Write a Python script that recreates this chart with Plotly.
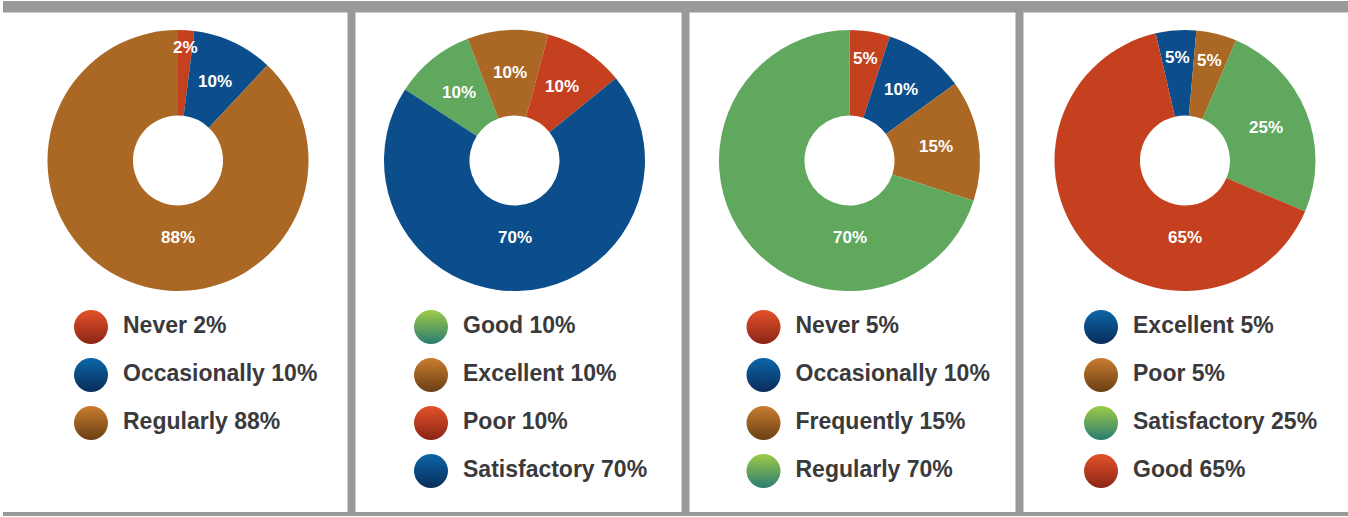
import math
import plotly.graph_objects as go

W, H = 1348, 517

# ---------------- data ----------------
p1_labels = ["Never", "Occasionally", "Regularly"]
p1_values = [2, 10, 88]
p2_labels = ["Good", "Excellent", "Poor", "Satisfactory"]
p2_values = [10, 10, 10, 70]
p3_labels = ["Never", "Occasionally", "Frequently", "Regularly"]
p3_values = [5, 10, 15, 70]
p4_labels = ["Excellent", "Poor", "Satisfactory", "Good"]
p4_values = [5, 5, 25, 65]

p1_colors = ["red", "blue", "brown"]
p2_colors = ["green", "brown", "red", "blue"]
p3_colors = ["red", "blue", "brown", "green"]
p4_colors = ["blue", "brown", "green", "red"]

# ---------------- styles ----------------
SLICE = {"red": "#c4401f", "blue": "#0c4e8b", "brown": "#aa6824", "green": "#5fa85e"}
BALL_TOP = {"red": "#e4522b", "blue": "#0b66a8", "brown": "#c97d2e", "green": "#9ecb48"}
BALL_BOT = {"red": "#8a2414", "blue": "#0a2d5a", "brown": "#6a3f15", "green": "#2a7c70"}
GRAY = "#98999b"
TEXT = "#3a3a3c"
FONT = "Liberation Sans"

panels = [
    dict(labels=p1_labels, values=p1_values, colors=p1_colors, cx=178, rot=0, lx=91),
    dict(labels=p2_labels, values=p2_values, colors=p2_colors, cx=514.5, rot=-57, lx=431),
    dict(labels=p3_labels, values=p3_values, colors=p3_colors, cx=849.5, rot=0, lx=763.5),
    dict(labels=p4_labels, values=p4_values, colors=p4_colors, cx=1185, rot=-13, lx=1101),
]
CY, R, HOLE = 160.5, 130.5, 0.345
LEG_Y0, LEG_GAP, TXT_OFF = 327, 48, 32

fig = go.Figure()
annotations = []

for p in panels:
    fig.add_trace(go.Pie(
        labels=p["labels"], values=p["values"],
        marker=dict(colors=[SLICE[c] for c in p["colors"]], line=dict(width=0)),
        hole=HOLE, sort=False, direction="clockwise", rotation=p["rot"],
        textinfo="none",
        domain=dict(x=[(p["cx"] - R) / W, (p["cx"] + R) / W],
                    y=[(H - (CY + R)) / H, (H - (CY - R)) / H]),
        showlegend=False, hoverinfo="skip",
    ))
    # slice labels, placed from the data (mid-angle of each slice; the
    # dominant slice's label sits at the bottom of the ring)
    total = sum(p["values"])
    cum = 0
    r_mid = (HOLE + 1) / 2 * R
    for v in p["values"]:
        ang = p["rot"] + 360 * (cum + v / 2) / total
        cum += v
        r = r_mid
        if v / total > 0.5:
            ang = 180
            r = 0.59 * R
        elif v / total < 0.04:
            r = 0.87 * R
        elif v / total <= 0.05:
            r = 0.79 * R
        a = math.radians(ang)
        annotations.append(dict(
            x=p["cx"] + r * math.sin(a), y=CY - r * math.cos(a),
            xref="x", yref="y", text=f"{v}%", showarrow=False,
            font=dict(family=FONT, size=17, color="white", weight="bold"),
        ))
    n = len(p["labels"])
    ys = [LEG_Y0 + i * LEG_GAP for i in range(n)]
    fig.add_trace(go.Scatter(
        x=[p["lx"]] * n, y=ys, mode="markers",
        marker=dict(size=34, color=[BALL_TOP[c] for c in p["colors"]],
                    gradient=dict(type="vertical", color=[BALL_BOT[c] for c in p["colors"]]),
                    line=dict(width=0)),
        showlegend=False, hoverinfo="skip",
    ))
    fig.add_trace(go.Scatter(
        x=[p["lx"] + TXT_OFF] * n, y=ys, mode="text",
        text=[f"{l} {v}%" for l, v in zip(p["labels"], p["values"])],
        textposition="middle right",
        textfont=dict(family=FONT, size=23, color=TEXT, weight="bold"),
        showlegend=False, hoverinfo="skip",
    ))

shapes = [
    dict(type="rect", x0=3, x1=W, y0=1, y1=12.5),
    dict(type="rect", x0=3, x1=W, y0=512, y1=516),
]
for sx in (347.5, 681.5, 1015.5):
    shapes.append(dict(type="rect", x0=sx, x1=sx + 8, y0=12, y1=512))
for s in shapes:
    s.update(xref="x", yref="y", fillcolor=GRAY, line=dict(width=0), layer="below")

fig.update_layout(
    width=W, height=H, margin=dict(l=0, r=0, t=0, b=0),
    paper_bgcolor="white", plot_bgcolor="white",
    xaxis=dict(range=[0, W], visible=False, fixedrange=True, domain=[0, 1]),
    yaxis=dict(range=[H, 0], visible=False, fixedrange=True, domain=[0, 1]),
    shapes=shapes,
    annotations=annotations,
    showlegend=False,
)

fig.write_html("out.html")
